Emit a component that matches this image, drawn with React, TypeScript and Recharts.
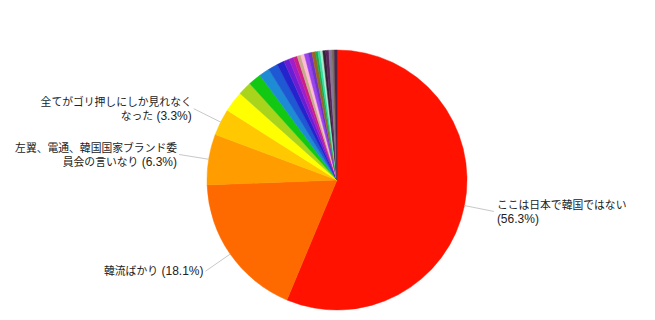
import React from "react";
import { PieChart, Pie, Cell } from "recharts";

const categories: string[] = [
  "ここは日本で韓国ではない",
  "韓流ばかり",
  "左翼、電通、韓国国家ブランド委\n員会の言いなり",
  "全てがゴリ押しにしか見れなく\nなった",
  "回答5", "回答6", "回答7", "回答8", "回答9", "回答10", "回答11",
  "回答12", "回答13", "回答14", "回答15", "回答16", "回答17", "回答18",
  "回答19", "回答20", "回答21", "回答22", "回答23", "回答24", "回答25", "回答26",
];

const values: number[] = [
  56.3, 18.1, 6.3, 3.3,
  2.6, 1.7, 1.6, 1.3, 1.2, 0.9, 0.7, 0.55, 0.5, 0.45, 0.45, 0.5,
  0.45, 0.45, 0.3, 0.3, 0.3, 0.35, 0.4, 0.35, 0.3, 0.35,
];

const colors: string[] = [
  "#ff1200", "#ff6a00", "#ff9c00", "#ffc800", "#ffff00", "#a8d41c",
  "#12c812", "#1e8cd4", "#1e58d2", "#2424cc", "#6a1ed4", "#a01ec8",
  "#cc1e88", "#c8aa8a", "#ffbcd6", "#9a44ee", "#7230cc", "#9a6624",
  "#22a844", "#30dca8", "#a8eccc", "#362236", "#58245a", "#86789a",
  "#7a6a5a", "#4a2a4a",
];

const data = categories.map((name, i) => ({ name, value: values[i] }));

const RAD = Math.PI / 180;
const FONT = "'Liberation Sans', Arial, 'Noto Sans CJK JP', sans-serif";

function isWide(ch: string): boolean {
  return ch.charCodeAt(0) > 255;
}

function estWidth(s: string): number {
  let w = 0;
  for (const ch of s) w += isWide(ch) ? 1 : 0.55;
  return w;
}

function runs(s: string): { wide: boolean; text: string }[] {
  const out: { wide: boolean; text: string }[] = [];
  for (const ch of s) {
    const w = isWide(ch);
    if (out.length && out[out.length - 1].wide === w) out[out.length - 1].text += ch;
    else out.push({ wide: w, text: ch });
  }
  return out;
}

function renderLabel(props: any) {
  const { cx, cy, midAngle, outerRadius, percent, name } = props;
  if (percent < 0.03) return null;
  const cos = Math.cos(-midAngle * RAD);
  const sin = Math.sin(-midAngle * RAD);
  const sx = cx + outerRadius * cos;
  const sy = cy + outerRadius * sin;
  const ex = cx + (outerRadius + 30) * cos;
  const ey = cy + (outerRadius + 30) * sin;
  const right = cos >= 0;
  const suffix = `(${(percent * 100).toFixed(1)}%)`;
  const lines = String(name).split("\n");
  const last = lines[lines.length - 1];
  if (estWidth(last) + estWidth(" " + suffix) > 15) lines.push(suffix);
  else lines[lines.length - 1] = last + " " + suffix;
  const lh = 14;
  const tx = ex + (right ? 3 : -2);
  const y0 = ey - ((lines.length - 1) * lh) / 2;
  return (
    <g>
      <line x1={sx} y1={sy} x2={ex} y2={ey} stroke="#c8c8c8" strokeWidth={1} />
      <text
        x={tx}
        y={y0}
        textAnchor={right ? "start" : "end"}
        fontFamily={FONT}
        fontSize={12}
        fill="#222222"
      >
        {lines.map((l, i) => (
          <tspan key={i} x={tx} y={y0 + i * lh + 4.2}>
            {runs(l).map((r, j) => (
              <tspan key={j} fontSize={r.wide ? 10.8 : 12}>
                {r.text}
              </tspan>
            ))}
          </tspan>
        ))}
      </text>
    </g>
  );
}

export default function App() {
  return (
    <div style={{ margin: "-8px 0 0 -8px", width: 655, height: 320, background: "#ffffff" }}>
      <PieChart width={655} height={320} margin={{ top: 0, right: 0, bottom: 0, left: 0 }}>
        <Pie
          data={data}
          dataKey="value"
          nameKey="name"
          cx={337}
          cy={180}
          outerRadius={130}
          startAngle={90}
          endAngle={-270}
          isAnimationActive={false}
          label={renderLabel}
          labelLine={false}
        >
          {data.map((d, i) => (
            <Cell key={d.name} fill={colors[i]} stroke={colors[i]} strokeWidth={0.5} />
          ))}
        </Pie>
      </PieChart>
    </div>
  );
}
